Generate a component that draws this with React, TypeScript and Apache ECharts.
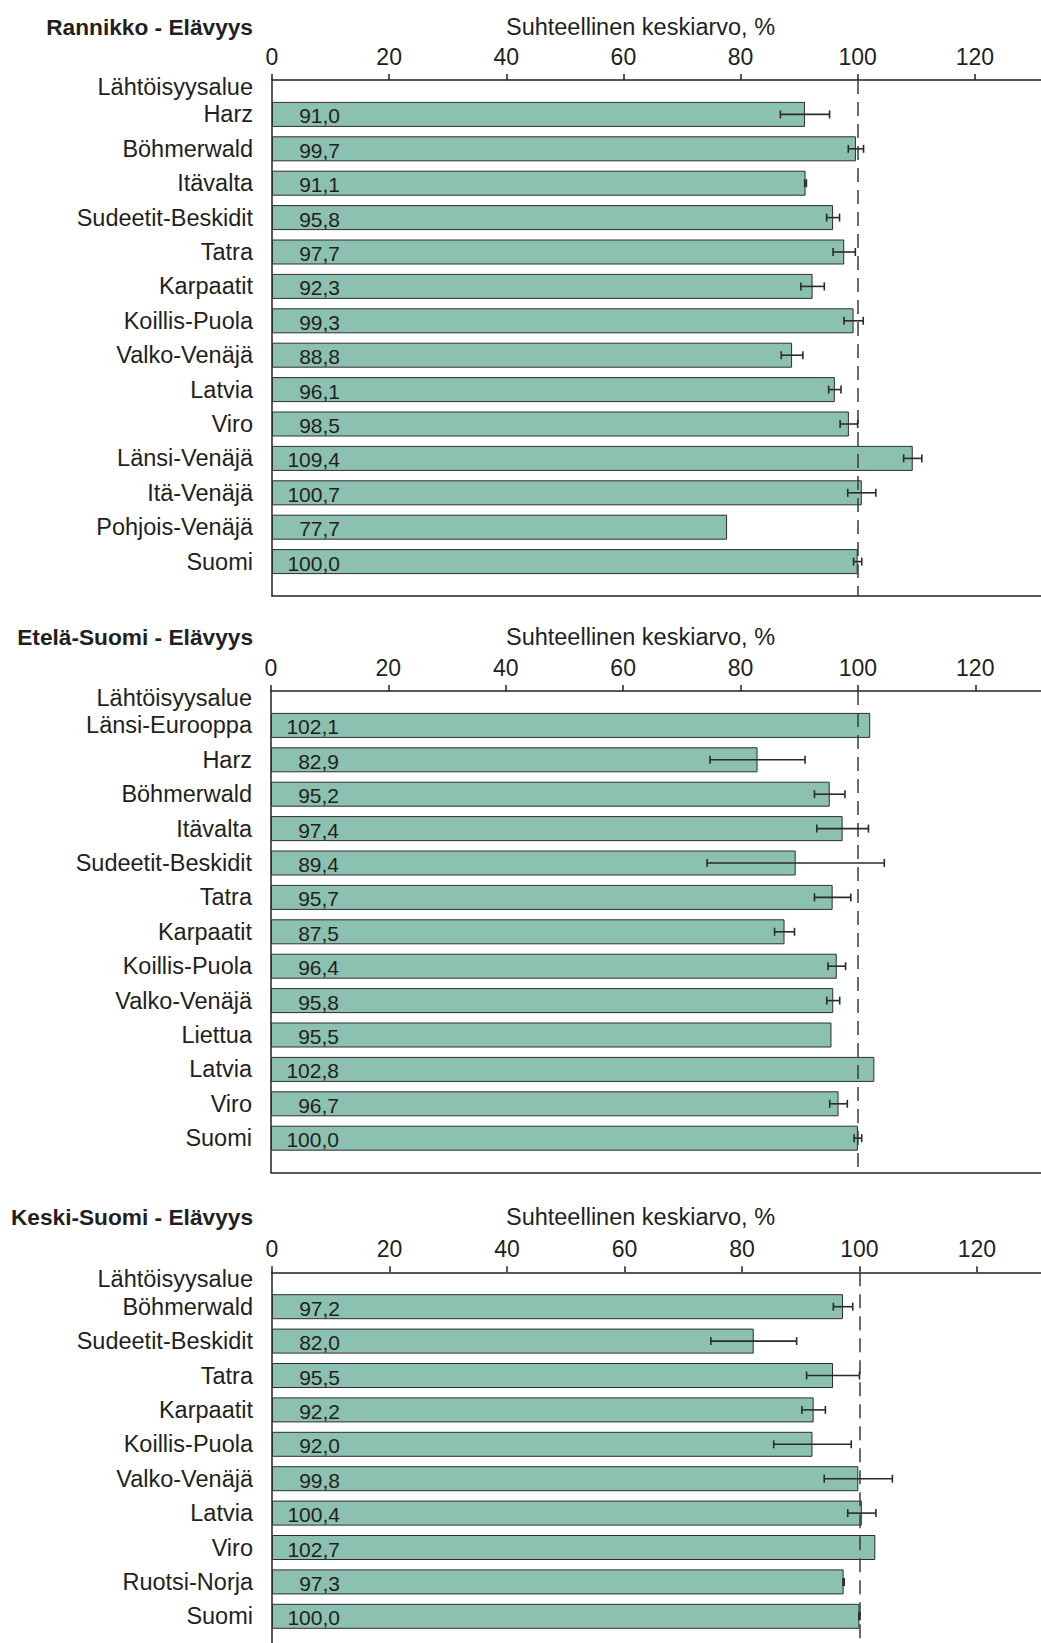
import React, { useEffect, useRef } from "react";
import * as echarts from "echarts";

// Category labels, bar values and ± error half-widths for each region panel
const titles = ["Rannikko - Elävyys", "Etelä-Suomi - Elävyys", "Keski-Suomi - Elävyys"];
const axisTitle = "Suhteellinen keskiarvo, %";
const headLabel = "Lähtöisyysalue";

const cats1 = ["Harz", "Böhmerwald", "Itävalta", "Sudeetit-Beskidit", "Tatra", "Karpaatit", "Koillis-Puola", "Valko-Venäjä", "Latvia", "Viro", "Länsi-Venäjä", "Itä-Venäjä", "Pohjois-Venäjä", "Suomi"];
const vals1 = [91.0, 99.7, 91.1, 95.8, 97.7, 92.3, 99.3, 88.8, 96.1, 98.5, 109.4, 100.7, 77.7, 100.0];
const err1 = [4.2, 1.3, 0.15, 1.1, 1.9, 2.0, 1.65, 1.85, 1.05, 1.5, 1.55, 2.4, 0, 0.7];

const cats2 = ["Länsi-Eurooppa", "Harz", "Böhmerwald", "Itävalta", "Sudeetit-Beskidit", "Tatra", "Karpaatit", "Koillis-Puola", "Valko-Venäjä", "Liettua", "Latvia", "Viro", "Suomi"];
const vals2 = [102.1, 82.9, 95.2, 97.4, 89.4, 95.7, 87.5, 96.4, 95.8, 95.5, 102.8, 96.7, 100.0];
const err2 = [0, 8.1, 2.6, 4.4, 15.1, 3.1, 1.7, 1.5, 1.1, 0, 0, 1.5, 0.65];

const cats3 = ["Böhmerwald", "Sudeetit-Beskidit", "Tatra", "Karpaatit", "Koillis-Puola", "Valko-Venäjä", "Latvia", "Viro", "Ruotsi-Norja", "Suomi"];
const vals3 = [97.2, 82.0, 95.5, 92.2, 92.0, 99.8, 100.4, 102.7, 97.3, 100.0];
const err3 = [1.65, 7.3, 4.5, 2.0, 6.6, 5.8, 2.4, 0, 0.1, 0.1];

const xTicks = [0, 20, 40, 60, 80, 100, 120];
const referenceValue = 100;

const FONT = "'Liberation Sans', Arial, Helvetica, sans-serif";
const INK = "#231f20";
const BAR_FILL = "#8cc0b0";
const STEP = 34.4;
const VIEW_W = 1041;
const VIEW_H = 1643;
const CANVAS_H = 1670;

type Panel = {
  title: string;
  cats: string[];
  vals: number[];
  err: number[];
  axisY: number;
  left: number;
  xMax: number;
  titleY: number;
  bottomLine: boolean;
};

const panels: Panel[] = [
  { title: titles[0], cats: cats1, vals: vals1, err: err1, axisY: 80, left: 272, xMax: 131.3, titleY: 27, bottomLine: true },
  { title: titles[1], cats: cats2, vals: vals2, err: err2, axisY: 691, left: 271, xMax: 131.2, titleY: 637, bottomLine: true },
  { title: titles[2], cats: cats3, vals: vals3, err: err3, axisY: 1272.3, left: 272, xMax: 130.9, titleY: 1217, bottomLine: false },
];

function fmt(v: number) {
  return v.toFixed(1).replace(".", ",");
}

function buildOption() {
  const grid: any[] = [];
  const xAxis: any[] = [];
  const yAxis: any[] = [];
  const series: any[] = [];
  const graphic: any[] = [];

  panels.forEach((p, gi) => {
    const n = p.cats.length;
    grid.push({
      left: p.left,
      right: 0,
      top: p.axisY,
      height: (n + 1) * STEP,
      containLabel: false,
    });

    const topIndex = xAxis.length;
    xAxis.push({
      type: "value",
      gridIndex: gi,
      position: "top",
      min: 0,
      max: p.xMax,
      interval: 20,
      axisLine: { show: true, lineStyle: { color: INK, width: 1.5 } },
      axisTick: { show: true, inside: false, length: 6, lineStyle: { color: INK, width: 1.5 } },
      axisLabel: {
        show: true,
        margin: 12,
        color: INK,
        fontSize: 23,
        fontFamily: FONT,
        showMaxLabel: false,
        formatter: (v: number) => (xTicks.indexOf(v) >= 0 ? String(v) : ""),
      },
      splitLine: { show: false },
    });
    if (p.bottomLine) {
      xAxis.push({
        type: "value",
        gridIndex: gi,
        position: "bottom",
        min: 0,
        max: p.xMax,
        axisLine: { show: true, onZero: false, lineStyle: { color: INK, width: 1.5 } },
        axisTick: { show: false },
        axisLabel: { show: false },
        splitLine: { show: false },
      });
    }

    const catsFull = [headLabel, ...p.cats, ""];
    yAxis.push({
      type: "category",
      gridIndex: gi,
      inverse: true,
      boundaryGap: false,
      data: catsFull,
      axisLine: { show: true, onZero: false, lineStyle: { color: INK, width: 1.5 } },
      axisTick: { show: false },
      axisLabel: {
        interval: 0,
        margin: 19,
        color: INK,
        fontSize: 23.5,
        fontFamily: FONT,
        formatter: (v: string) => (v === headLabel ? "{head|" + v + "}" : v),
        rich: {
          head: { fontSize: 23.5, fontFamily: FONT, color: INK, padding: [13, 0, 0, 0] },
        },
      },
      splitLine: { show: false },
    });

    series.push({
      type: "bar",
      xAxisIndex: topIndex,
      yAxisIndex: gi,
      data: [null, ...p.vals, null],
      barWidth: 25,
      itemStyle: { color: BAR_FILL, borderColor: "#2e2e2e", borderWidth: 1 },
      label: {
        show: true,
        position: [68, 14],
        align: "right",
        verticalAlign: "middle",
        color: INK,
        fontSize: 21,
        fontFamily: FONT,
        formatter: (d: any) => fmt(d.value),
      },
      markLine: {
        silent: true,
        symbol: "none",
        label: { show: false },
        lineStyle: { type: [14, 8], color: "#3a3a3a", width: 1.5 },
        data: [{ xAxis: referenceValue }],
        z: 5,
      },
      z: 2,
    });

    const errData: number[][] = [];
    p.vals.forEach((v, i) => {
      const e = p.err[i];
      if (e > 0) errData.push([i + 1, v - e, v + e]);
    });
    series.push({
      type: "custom",
      xAxisIndex: topIndex,
      yAxisIndex: gi,
      data: errData,
      encode: { x: [1, 2], y: 0 },
      z: 6,
      renderItem: (params: any, api: any) => {
        const c = api.value(0);
        const a = api.coord([api.value(1), c]);
        const b = api.coord([api.value(2), c]);
        const h = 4;
        const style = { stroke: "#2b2b2b", lineWidth: 1.6, fill: null };
        return {
          type: "group",
          children: [
            { type: "line", shape: { x1: a[0], y1: a[1], x2: b[0], y2: b[1] }, style },
            { type: "line", shape: { x1: a[0], y1: a[1] - h, x2: a[0], y2: a[1] + h }, style },
            { type: "line", shape: { x1: b[0], y1: b[1] - h, x2: b[0], y2: b[1] + h }, style },
          ],
        };
      },
    });

    graphic.push({
      type: "text",
      x: 253,
      y: p.titleY,
      style: {
        text: p.title,
        fill: INK,
        fontSize: 22.7,
        fontWeight: "bold",
        fontFamily: FONT,
        align: "right",
        verticalAlign: "middle",
        textAlign: "right",
        textVerticalAlign: "middle",
      },
    });
    graphic.push({
      type: "text",
      x: 640.5,
      y: p.titleY,
      style: {
        text: axisTitle,
        fill: INK,
        fontSize: 23.5,
        fontFamily: FONT,
        align: "center",
        verticalAlign: "middle",
        textAlign: "center",
        textVerticalAlign: "middle",
      },
    });
  });

  return {
    animation: false,
    backgroundColor: "#ffffff",
    textStyle: { fontFamily: FONT },
    grid,
    xAxis,
    yAxis,
    series,
    graphic,
  };
}

export default function App() {
  const ref = useRef<HTMLDivElement>(null);

  useEffect(() => {
    if (!ref.current) return;
    const chart = echarts.init(ref.current, undefined, { renderer: "svg" });
    chart.setOption(buildOption() as any);
    return () => chart.dispose();
  }, []);

  // The last panel runs past the bottom edge, so the chart is taller than the visible frame
  return (
    <div
      style={{ position: "absolute", left: 0, top: 0, width: VIEW_W, height: VIEW_H, overflow: "hidden", background: "#fff" }}
    >
      <div ref={ref} style={{ width: VIEW_W, height: CANVAS_H }} />
    </div>
  );
}
